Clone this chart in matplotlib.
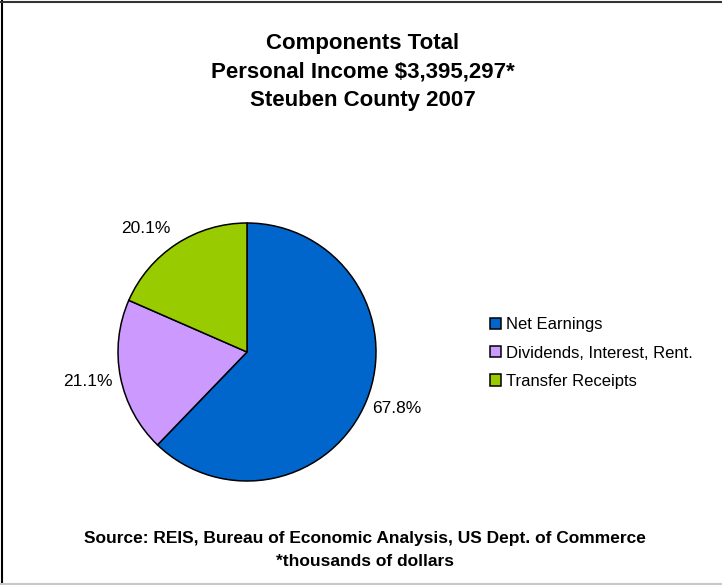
import matplotlib.pyplot as plt
from matplotlib.lines import Line2D

plt.rcParams['font.family'] = ['Liberation Sans', 'DejaVu Sans']

categories = ["Net Earnings", "Dividends, Interest, Rent.", "Transfer Receipts"]
values = [67.8, 21.1, 20.1]
pct_labels = ["67.8%", "21.1%", "20.1%"]
colors = ["#0066CC", "#CC99FF", "#99CC00"]

# where each percent label sits (axes data units, radius = 1) and its alignment
label_pos = [(0.97, -0.44, "left"), (-1.04, -0.23, "right"), (-0.59, 0.96, "right")]

W, H = 722, 585
fig = plt.figure(figsize=(W / 100, H / 100), dpi=100)

# pie: centre (247, 352) px, radius 129 px
cx, cy, r = 247, 352, 129
ax = fig.add_axes([(cx - r) / W, (H - cy - r) / H, 2 * r / W, 2 * r / H])
wedges, texts = ax.pie(values, labels=pct_labels, colors=colors, startangle=90,
                       counterclock=False,
                       wedgeprops=dict(edgecolor="black", linewidth=1.1),
                       textprops=dict(fontsize=12.5))
for t, (x, y, ha) in zip(texts, label_pos):
    t.set_position((x, y))
    t.set_ha(ha)
    t.set_va("center")
ax.set_xlim(-1, 1)
ax.set_ylim(-1, 1)
ax.set_aspect("equal")

title_lines = ["Components Total", "Personal Income $3,395,297*", "Steuben County 2007"]
for i, line in enumerate(title_lines):
    fig.text(0.502, 1 - (44 + 28 * i) / H, line, ha="center", va="center",
             fontsize=16, fontweight="bold")

fig.text(0.505, 1 - 539 / H, "Source: REIS, Bureau of Economic Analysis, US Dept. of Commerce",
         ha="center", va="center", fontsize=12.5, fontweight="bold")
fig.text(0.505, 1 - 562 / H, "*thousands of dollars",
         ha="center", va="center", fontsize=12.5, fontweight="bold")

fig.legend(wedges, categories, loc="center left", bbox_to_anchor=(490 / W, 1 - 353 / H),
           frameon=False, fontsize=12, handlelength=0.65, handleheight=0.65,
           handletextpad=0.3, labelspacing=0.8, borderpad=0, borderaxespad=0)

# outer frame
fig.add_artist(Line2D([2 / W, 2 / W], [0, 1], color="black", lw=1.5))
fig.add_artist(Line2D([0, 1], [1 - 1.5 / H, 1 - 1.5 / H], color="#333333", lw=1.5))
fig.add_artist(Line2D([0, 1], [1.5 / H, 1.5 / H], color="#c8c8c8", lw=1.5))

fig.savefig("out.png", dpi=100)
